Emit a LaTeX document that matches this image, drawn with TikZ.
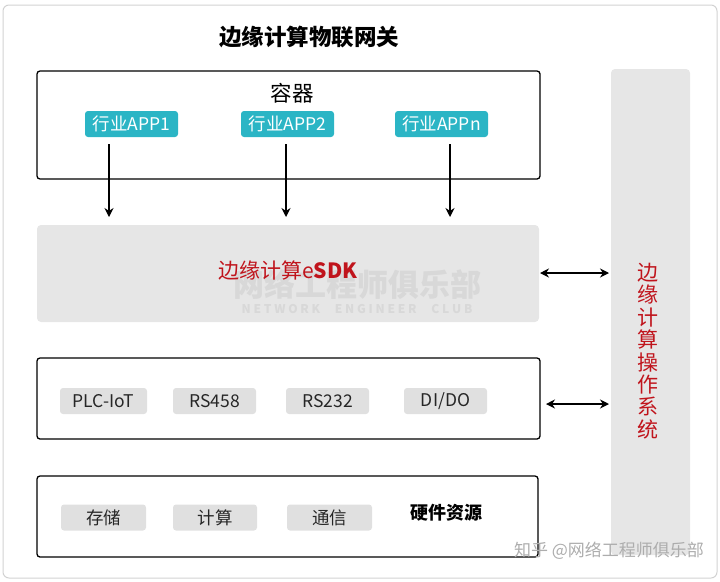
\documentclass[tikz,border=0pt]{standalone}
\usepackage{fontspec}
\setmainfont{Noto Sans CJK SC}
\usetikzlibrary{arrows.meta}
\definecolor{teal1}{HTML}{2BB5C5}
\definecolor{red1}{HTML}{C0141C}
\definecolor{gfill}{HTML}{E6E6E6}
\definecolor{bfill}{HTML}{E0E0E0}
\definecolor{frame}{HTML}{D2D2D2}
\definecolor{wm}{HTML}{D8D8D8}
\tikzset{
  box/.style={draw=black, line width=1.3pt, rounded corners=3pt},
  gbox/.style={fill=gfill, rounded corners=4pt},
  app/.style={fill=teal1, rounded corners=3pt, text=white, font=\fontsize{17.5}{17.5}\selectfont, minimum width=93pt, minimum height=26pt, inner sep=0pt},
  btn/.style={fill=bfill, rounded corners=3pt, text=black!85, font=\fontsize{17.5}{17.5}\selectfont, minimum width=85pt, minimum height=26pt, inner sep=0pt},
  arr/.style={-{Stealth[length=9pt,width=9pt]}, line width=1.2pt},
  darr/.style={{Stealth[length=9pt,width=9pt]}-{Stealth[length=9pt,width=9pt]}, line width=1.2pt},
}
\begin{document}
\begin{tikzpicture}[x=1pt,y=-1pt]
\useasboundingbox (0,0) rectangle (720,581);
\draw[frame, line width=1pt, rounded corners=6pt] (3,5) rectangle (717,578);
\node (title) at (309,37) {\fontsize{22.5}{22.5}\selectfont\bfseries 边缘计算物联网关};
% container
\draw[box] (37,71) rectangle (540,179);
\node (rq) at (292,93) {\fontsize{21.5}{21.5}\selectfont 容器};
\node[app] (app1) at (131.5,124) {行业APP1};
\node[app] (app2) at (287.5,124) {行业APP2};
\node[app] (appn) at (441.5,124) {行业APPn};
% eSDK
\node[gbox, minimum width=502pt, minimum height=97pt, inner sep=0pt] (esdk) at (288,273.5) {};
\node[font=\fontsize{31}{31}\selectfont\bfseries\itshape, text=wm, inner sep=0pt] (wm1) at (357,285) {网络工程师俱乐部};
\node[font=\fontsize{12}{12}\selectfont\bfseries\itshape, text=wm, inner sep=0pt] (wm2) at (357,309) {N E T W O R K\quad\ E N G I N E E R\quad\ C L U B};
\node[text=red1, font=\fontsize{21}{21}\selectfont] (esdkt) at (288,270) {边缘计算e\textbf{SDK}};
% arrows
\coordinate (a1s) at (109,144); \coordinate (a1e) at (109,217);
\coordinate (a2s) at (286,144); \coordinate (a2e) at (286,217);
\coordinate (a3s) at (450,144); \coordinate (a3e) at (450,217);
\draw[arr] (a1s) -- (a1e);
\draw[arr] (a2s) -- (a2e);
\draw[arr] (a3s) -- (a3e);
% OS
\node[gbox, minimum width=79pt, minimum height=486pt, inner sep=0pt] (os) at (650.5,312) {};
\node[text=red1, font=\fontsize{21}{22.4}\selectfont, align=center] (ost) at (648,351) {边\\缘\\计\\算\\操\\作\\系\\统};
% interfaces
\draw[box] (37,358) rectangle (540,439);
\node[btn, minimum width=87pt] (plc) at (103.5,401) {PLC-IoT};
\node[btn, minimum width=83pt] (rs458) at (214.5,401) {RS458};
\node[btn, minimum width=83pt] (rs232) at (327.5,401) {RS232};
\node[btn, minimum width=83pt] (dido) at (445.5,401) {DI/DO};
% hardware
\draw[box] (37,476) rectangle (538,557);
\node[btn] (cc) at (103.5,517.5) {存储};
\node[btn, minimum width=84pt] (js) at (215,517.5) {计算};
\node[btn] (tx) at (329.5,517.5) {通信};
\node[font=\fontsize{18}{18}\selectfont\bfseries] (hw) at (446,513) {硬件资源};
% double arrows
\coordinate (d1a) at (540,273); \coordinate (d1b) at (609,273);
\coordinate (d2a) at (546,404); \coordinate (d2b) at (609,404);
\draw[darr] (d1a) -- (d1b);
\draw[darr] (d2a) -- (d2b);
\node[text=wm!80!black, font=\fontsize{17}{17}\selectfont] (wm3) at (609,551) {知乎 @网络工程师俱乐部};
\end{tikzpicture}
\end{document}
